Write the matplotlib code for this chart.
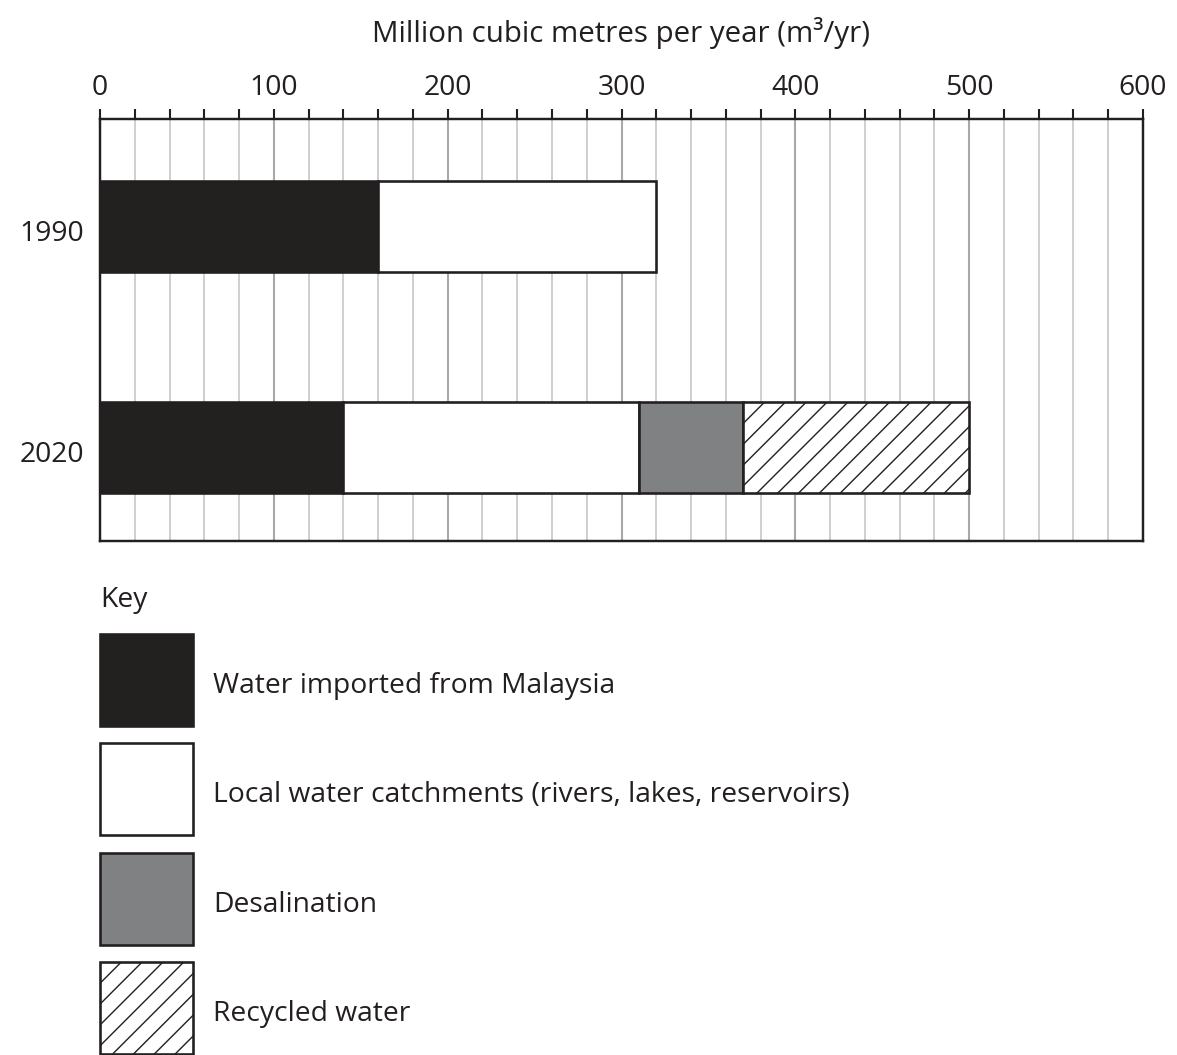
import matplotlib
matplotlib.use("Agg")
import matplotlib.pyplot as plt
from matplotlib.patches import Rectangle
import numpy as np

plt.rcParams['font.family'] = ['Open Sans', 'DejaVu Sans']
plt.rcParams['hatch.linewidth'] = 0.8

years = ["1990", "2020"]
sources = ["Water imported from Malaysia",
           "Local water catchments (rivers, lakes, reservoirs)",
           "Desalination",
           "Recycled water"]
values = {
    "Water imported from Malaysia": [160, 140],
    "Local water catchments (rivers, lakes, reservoirs)": [160, 170],
    "Desalination": [0, 60],
    "Recycled water": [0, 130],
}
colors = ["#222120", "#ffffff", "#808183", "#ffffff"]
hatches = [None, None, None, "//"]
major_ticks = [0, 100, 200, 300, 400, 500, 600]
edge = "#231f20"
FS = 16.3

W, H = 1177, 1055
DPI = 125
fig = plt.figure(figsize=(W / DPI, H / DPI), dpi=DPI)
ax = fig.add_axes([100 / W, 1 - 541 / H, 1043 / W, 422 / H])

ypos = np.arange(len(years))
left = np.zeros(len(years))
for src, c, h in zip(sources, colors, hatches):
    v = np.array(values[src], dtype=float)
    mask = v > 0
    ax.barh(ypos[mask], v[mask], left=left[mask], height=0.41, color=c,
            edgecolor=edge, linewidth=1.5, hatch=h, zorder=3)
    left += v

ax.set_xlim(0, 600)
ax.set_ylim(1.423, -0.486)
ax.set_yticks(ypos + 0.02)
ax.set_yticklabels(years, fontsize=FS, color="#231f20")
ax.tick_params(axis='y', length=0, pad=9)

ax.xaxis.tick_top()
ax.xaxis.set_label_position('top')
ax.set_xticks(major_ticks)
ax.set_xticks(np.arange(0, 601, 20), minor=True)
ax.tick_params(axis='x', which='both', direction='out', length=6, width=1.2,
               color=edge, labelsize=FS, labelcolor="#231f20", pad=4)
ax.grid(True, axis='x', which='minor', color="#c4c4c4", linewidth=0.9, zorder=0)
ax.grid(True, axis='x', which='major', color="#a8a8a8", linewidth=1.2, zorder=0)
ax.set_axisbelow(True)
ax.set_xlabel("Million cubic metres per year (m³/yr)", fontsize=17,
              color="#231f20", labelpad=18)
for s in ax.spines.values():
    s.set_linewidth(1.4)
    s.set_color(edge)
    s.set_zorder(5)

# Key
fig.text(100 / W, 1 - 600 / H, "Key", fontsize=FS, color="#231f20",
         ha='left', va='center')
key_tops = [634, 743, 853, 962]
for top, src, c, h in zip(key_tops, sources, colors, hatches):
    r = Rectangle((100 / W, 1 - (top + 92) / H), 93 / W, 92 / H,
                  transform=fig.transFigure, facecolor=c, edgecolor=edge,
                  linewidth=1.5, hatch=h)
    fig.add_artist(r)
    fig.text(213 / W, 1 - (top + 52) / H, src, fontsize=FS,
             color="#231f20", ha='left', va='center')

fig.savefig("out.png", dpi=DPI)
